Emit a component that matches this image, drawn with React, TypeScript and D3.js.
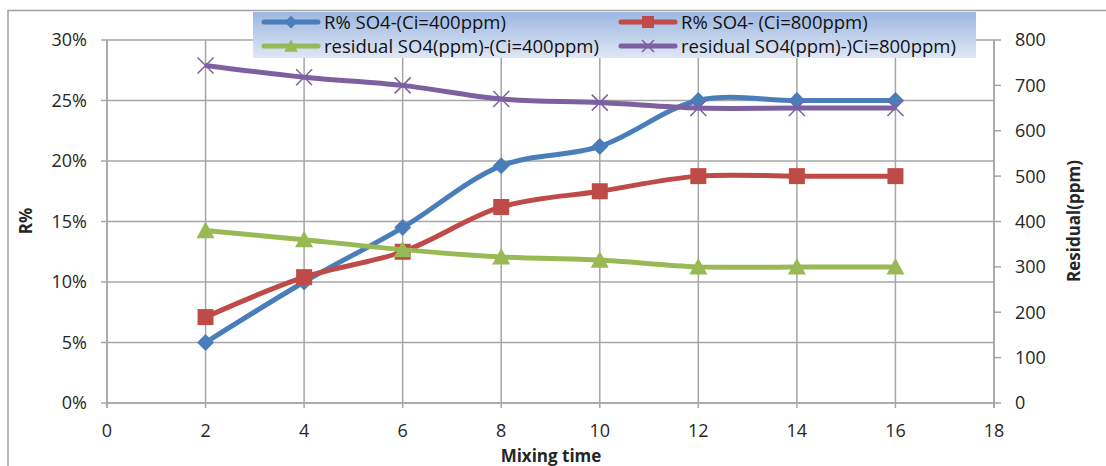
import React from "react";
import * as d3 from "d3";

const times = [2, 4, 6, 8, 10, 12, 14, 16];
const rPct400 = [0.05, 0.1, 0.145, 0.196, 0.212, 0.25, 0.25, 0.25];
const rPct800 = [0.071, 0.104, 0.125, 0.162, 0.175, 0.1875, 0.1875, 0.1875];
const resid400 = [380, 360, 338, 322, 315, 300, 300, 300];
const resid800 = [744, 718, 700, 670, 662, 650, 650, 650];
const xTicks = [0, 2, 4, 6, 8, 10, 12, 14, 16, 18];
const leftTicks = [0, 0.05, 0.1, 0.15, 0.2, 0.25, 0.3];
const rightTicks = [0, 100, 200, 300, 400, 500, 600, 700, 800];

const FONT = "'Open Sans', Lato, sans-serif";
const W = 1106, H = 466;
const x0 = 107, x1 = 994, yTop = 40, yBot = 403;

type Series = { name: string; color: string; marker: string; values: number[]; axis: "L" | "R" };
const series: Series[] = [
  { name: "R% SO4-(Ci=400ppm)", color: "#4a7ebb", marker: "diamond", values: rPct400, axis: "L" },
  { name: "R% SO4- (Ci=800ppm)", color: "#be4b48", marker: "square", values: rPct800, axis: "L" },
  { name: "residual SO4(ppm)-(Ci=400ppm)", color: "#98b954", marker: "triangle", values: resid400, axis: "R" },
  { name: "residual SO4(ppm)-)Ci=800ppm)", color: "#7d60a0", marker: "x", values: resid800, axis: "R" },
];

function Marker({ type, cx, cy, color, k = 1 }: { type: string; cx: number; cy: number; color: string; k?: number }) {
  if (type === "diamond") {
    const s = 8.5 * k;
    return <path d={`M${cx},${cy - s}L${cx + s},${cy}L${cx},${cy + s}L${cx - s},${cy}Z`} fill={color} />;
  }
  if (type === "square") {
    const s = 8 * k;
    return <rect x={cx - s} y={cy - s} width={2 * s} height={2 * s} fill={color} />;
  }
  if (type === "triangle") {
    const s = 9 * k;
    return <path d={`M${cx},${cy - s}L${cx + s},${cy + s * 0.85}L${cx - s},${cy + s * 0.85}Z`} fill={color} />;
  }
  const s = 8 * k;
  return (
    <path d={`M${cx - s},${cy - s}L${cx + s},${cy + s}M${cx - s},${cy + s}L${cx + s},${cy - s}`} stroke={color} strokeWidth={1.5} fill="none" />
  );
}

export default function App() {
  const x = d3.scaleLinear().domain([0, 18]).range([x0, x1]);
  const yL = d3.scaleLinear().domain([0, 0.3]).range([yBot, yTop]);
  const yR = d3.scaleLinear().domain([0, 800]).range([yBot, yTop]);
  const grid = "#a6a6a6";
  const txt = "#262626";

  const legendItems = [
    { s: series[0], lx: 264, ly: 22 },
    { s: series[1], lx: 621, ly: 22 },
    { s: series[2], lx: 264, ly: 46 },
    { s: series[3], lx: 621, ly: 46 },
  ];

  return (
    <svg width={W} height={H} style={{ position: "absolute", left: 0, top: 0, background: "#fff" }} fontFamily={FONT}>
      <defs>
        <linearGradient id="lg" x1="0" y1="0" x2="0" y2="1">
          <stop offset="0" stopColor="#9cb7e1" />
          <stop offset="1" stopColor="#dfe7f5" />
        </linearGradient>
      </defs>
      {/* outer border */}
      <path d={`M8,${H}L8,10.5L${W},10.5`} stroke="#a0a0a0" strokeWidth={1.5} fill="none" />
      {/* grid */}
      {leftTicks.map((t) => (
        <line key={"h" + t} x1={x0} x2={x1} y1={yL(t)} y2={yL(t)} stroke={grid} strokeWidth={1.5} />
      ))}
      {xTicks.map((t) => (
        <line key={"v" + t} x1={x(t)} x2={x(t)} y1={yTop} y2={yBot + 5} stroke={grid} strokeWidth={1.5} />
      ))}
      {/* axes ticks */}
      {leftTicks.map((t) => (
        <g key={"lt" + t}>
          <line x1={x0 - 6} x2={x0} y1={yL(t)} y2={yL(t)} stroke={grid} strokeWidth={1.5} />
          <text x={87} y={yL(t)} dy="0.36em" textAnchor="end" fontSize={18} fill={txt}>
            {d3.format(".0%")(t)}
          </text>
        </g>
      ))}
      {rightTicks.map((t) => (
        <g key={"rt" + t}>
          <line x1={x1} x2={x1 + 7} y1={yR(t)} y2={yR(t)} stroke={grid} strokeWidth={1.5} />
          <text x={1015} y={yR(t)} dy="0.36em" textAnchor="start" fontSize={18} fill={txt}>
            {t}
          </text>
        </g>
      ))}
      {xTicks.map((t) => (
        <text key={"xt" + t} x={x(t)} y={437} textAnchor="middle" fontSize={18} fill={txt}>
          {t}
        </text>
      ))}
      <line x1={x0} x2={x1} y1={yBot} y2={yBot} stroke={grid} strokeWidth={1.5} />
      <line x1={x0} x2={x0} y1={yTop} y2={yBot + 5} stroke={grid} strokeWidth={1.5} />
      <line x1={x1} x2={x1} y1={yTop} y2={yBot + 5} stroke={grid} strokeWidth={1.5} />
      {/* axis titles */}
      <text transform={`translate(32,221) rotate(-90)`} textAnchor="middle" fontSize={17} fontWeight="bold" fill={txt}>
        R%
      </text>
      <text transform={`translate(1080,221) rotate(-90)`} textAnchor="middle" fontSize={17} fontWeight="bold" fill={txt}>
        Residual(ppm)
      </text>
      <text x={551} y={462} textAnchor="middle" fontSize={17} fontWeight="bold" fill={txt}>
        Mixing time
      </text>
      {/* series */}
      {series.map((s) => {
        const yS = s.axis === "L" ? yL : yR;
        const line = d3
          .line<number>()
          .x((_, i) => x(times[i]))
          .y((v) => yS(v))
          .curve(d3.curveCatmullRom.alpha(0.5));
        return (
          <g key={s.name}>
            <path d={line(s.values) || ""} stroke={s.color} strokeWidth={5} fill="none" strokeLinejoin="round" />
            {s.values.map((v, i) => (
              <Marker key={i} type={s.marker} cx={x(times[i])} cy={yS(v)} color={s.color} />
            ))}
          </g>
        );
      })}
      {/* legend */}
      <rect x={253} y={12} width={723} height={46} fill="url(#lg)" />
      {legendItems.map(({ s, lx, ly }) => (
        <g key={"lg" + s.name}>
          <line x1={lx} x2={lx + 54} y1={ly} y2={ly} stroke={s.color} strokeWidth={5} strokeLinecap="round" />
          <Marker type={s.marker} cx={lx + 27} cy={ly} color={s.color} k={0.75} />
          <text x={lx + 60} y={ly} dy="0.36em" fontSize={18.5} fill="#111">
            {s.name}
          </text>
        </g>
      ))}
    </svg>
  );
}
